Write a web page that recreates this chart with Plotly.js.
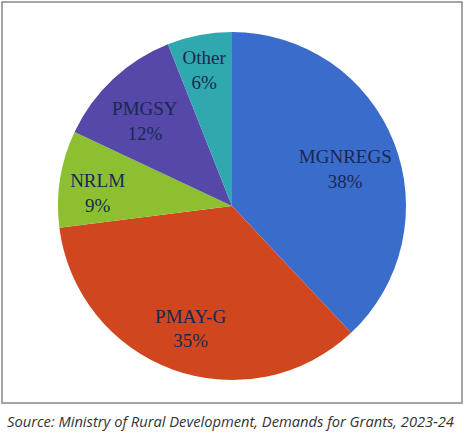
<!DOCTYPE html>
<html>
<head>
<meta charset="utf-8">
<script src="https://cdn.plot.ly/plotly-3.0.1.min.js"></script>
<style>html,body{margin:0;padding:0;background:#fff;}#chart{width:464px;height:434px;}</style>
</head>
<body>
<div id="chart"></div>
<script>
const labels = ["MGNREGS", "PMAY-G", "NRLM", "PMGSY", "Other"];
const shares = [38, 35, 9, 12, 6];
const sliceColors = ["#3a6ccc", "#d0461e", "#8cc030", "#5548a8", "#30a8b0"];
const sourceText = "Source: Ministry of Rural Development, Demands for Grants, 2023-24";

const W = 464, H = 434;
const pieDomain = { x: [58 / W, 406 / W], y: [1 - 380 / H, 1 - 32 / H] };
const labelDomain = { x: [58 / W, 406 / W], y: [1 - 388 / H, 1 - 40 / H] };

// Filled slices
const slices = {
  type: "pie",
  labels: labels,
  values: shares,
  sort: false,
  direction: "clockwise",
  rotation: 0,
  marker: { colors: sliceColors, line: { width: 0 } },
  textinfo: "none",
  domain: pieDomain,
  showlegend: false,
  hoverinfo: "none"
};

// Same slices, transparent ring, used only to place the labels further out
const sliceLabels = {
  type: "pie",
  labels: labels,
  values: shares,
  sort: false,
  direction: "clockwise",
  rotation: 0,
  hole: 0.4,
  marker: { colors: sliceColors.map(() => "rgba(0,0,0,0)"), line: { width: 0 } },
  texttemplate: "%{label}<br>%{percent:.0%}",
  textposition: "inside",
  insidetextorientation: "horizontal",
  textfont: { family: "Liberation Serif, Times New Roman, serif", size: 19, color: "#1a2850" },
  domain: labelDomain,
  showlegend: false,
  hoverinfo: "none"
};

const layout = {
  width: W, height: H,
  margin: { l: 0, r: 0, t: 0, b: 0 },
  paper_bgcolor: "#ffffff",
  plot_bgcolor: "#ffffff",
  showlegend: false,
  uniformtext: { mode: "show", minsize: 19 },
  shapes: [{
    type: "rect", xref: "paper", yref: "paper",
    x0: 2 / W, x1: 462 / W, y0: 1 - 403 / H, y1: 1 - 2 / H,
    line: { color: "#888888", width: 1.5 }, fillcolor: "rgba(0,0,0,0)"
  }],
  annotations: [{
    text: "<i>" + sourceText + "</i>",
    xref: "paper", yref: "paper",
    x: 5 / W, y: 1 - 421 / H, xanchor: "left", yanchor: "middle",
    showarrow: false,
    font: { family: "Open Sans, Liberation Sans, sans-serif", size: 14.7, color: "#333333" }
  }]
};

Plotly.newPlot("chart", [slices, sliceLabels], layout, { displayModeBar: false, staticPlot: true });
</script>
</body>
</html>
